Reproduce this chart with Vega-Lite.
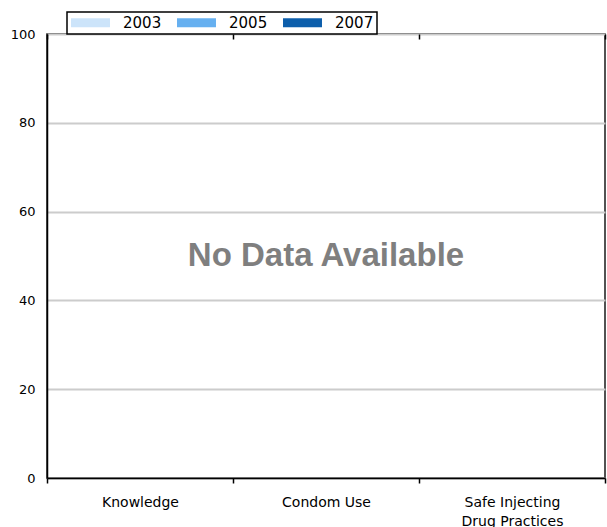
{
  "$schema": "https://vega.github.io/schema/vega-lite/v6.json",
  "width": 558,
  "height": 444,
  "autosize": {"type": "none"},
  "padding": {"left": 47, "top": 34, "right": 2, "bottom": 49},
  "background": "white",
  "config": {
    "view": {"stroke": "#1a1a1a", "strokeWidth": 1.5},
    "font": "DejaVu Sans"
  },
  "resolve": {"axis": {"x": "independent"}},
  "layer": [
    {
      "data": {
        "values": [
          {"category": "Knowledge", "year": "2003", "value": null},
          {"category": "Knowledge", "year": "2005", "value": null},
          {"category": "Knowledge", "year": "2007", "value": null},
          {"category": "Condom Use", "year": "2003", "value": null},
          {"category": "Condom Use", "year": "2005", "value": null},
          {"category": "Condom Use", "year": "2007", "value": null},
          {"category": "Safe Injecting Drug Practices", "year": "2003", "value": null},
          {"category": "Safe Injecting Drug Practices", "year": "2005", "value": null},
          {"category": "Safe Injecting Drug Practices", "year": "2007", "value": null}
        ]
      },
      "mark": "bar",
      "encoding": {
        "x": {
          "field": "category",
          "type": "nominal",
          "sort": null,
          "scale": {"domain": ["Knowledge", "Condom Use", "Safe Injecting Drug Practices"], "paddingInner": 0, "paddingOuter": 0},
          "axis": {
            "orient": "bottom",
            "title": null,
            "labelAngle": 0,
            "labelFont": "DejaVu Sans",
            "labelFontSize": 14,
            "labelColor": "#000000",
            "labelPadding": 12,
            "labelBaseline": "top",
            "labelLineHeight": 19,
            "labelExpr": "datum.value == 'Safe Injecting Drug Practices' ? ['Safe Injecting', 'Drug Practices'] : datum.value",
            "domainColor": "#000000",
            "domainWidth": 1.5,
            "tickColor": "#000000",
            "tickSize": 5,
            "tickWidth": 1.5,
            "tickBand": "extent",
            "grid": false
          }
        },
        "xOffset": {"field": "year", "type": "nominal"},
        "y": {
          "field": "value",
          "type": "quantitative",
          "scale": {"domain": [0, 100], "nice": false},
          "axis": {
            "title": null,
            "values": [0, 20, 40, 60, 80, 100],
            "labelFont": "DejaVu Sans",
            "labelFontSize": 13,
            "labelColor": "#000000",
            "labelPadding": 12,
            "ticks": false,
            "domainColor": "#000000",
            "domainWidth": 1.5,
            "grid": true,
            "gridColor": "#cccccc",
            "gridWidth": 2
          }
        },
        "color": {
          "field": "year",
          "type": "nominal",
          "scale": {"domain": ["2003", "2005", "2007"], "range": ["#cce4fa", "#66b0f0", "#0c5eab"]},
          "legend": {
            "title": null,
            "orient": "none",
            "direction": "horizontal",
            "legendX": 20,
            "legendY": -22,
            "padding": 3,
            "strokeColor": "#000000",
            "fillColor": "white",
            "cornerRadius": 0,
            "symbolType": "M-4.33,-1H4.33V1H-4.33Z",
            "symbolSize": 81,
            "symbolStrokeWidth": 0,
            "symbolOffset": 13,
            "labelFont": "DejaVu Sans",
            "labelFontSize": 15,
            "labelColor": "#000000",
            "labelOffset": 25,
            "columnPadding": 14,
            "encode": {"legend": {"update": {"strokeWidth": {"value": 1.5}}}}
          }
        }
      }
    },
    {
      "data": {"values": [{"label": "No Data Available"}]},
      "mark": {"type": "text", "font": "Liberation Sans", "fontWeight": "bold", "fontSize": 33, "color": "#7f7f7f", "align": "center", "baseline": "middle"},
      "encoding": {
        "x": {
          "datum": "Condom Use",
          "type": "nominal",
          "axis": {
            "orient": "top",
            "labels": false,
            "domain": false,
            "grid": false,
            "title": null,
            "tickColor": "#000000",
            "tickSize": -5,
            "tickWidth": 1.5,
            "tickBand": "extent"
          }
        },
        "y": {"datum": 50, "type": "quantitative"},
        "text": {"field": "label"}
      }
    }
  ]
}
